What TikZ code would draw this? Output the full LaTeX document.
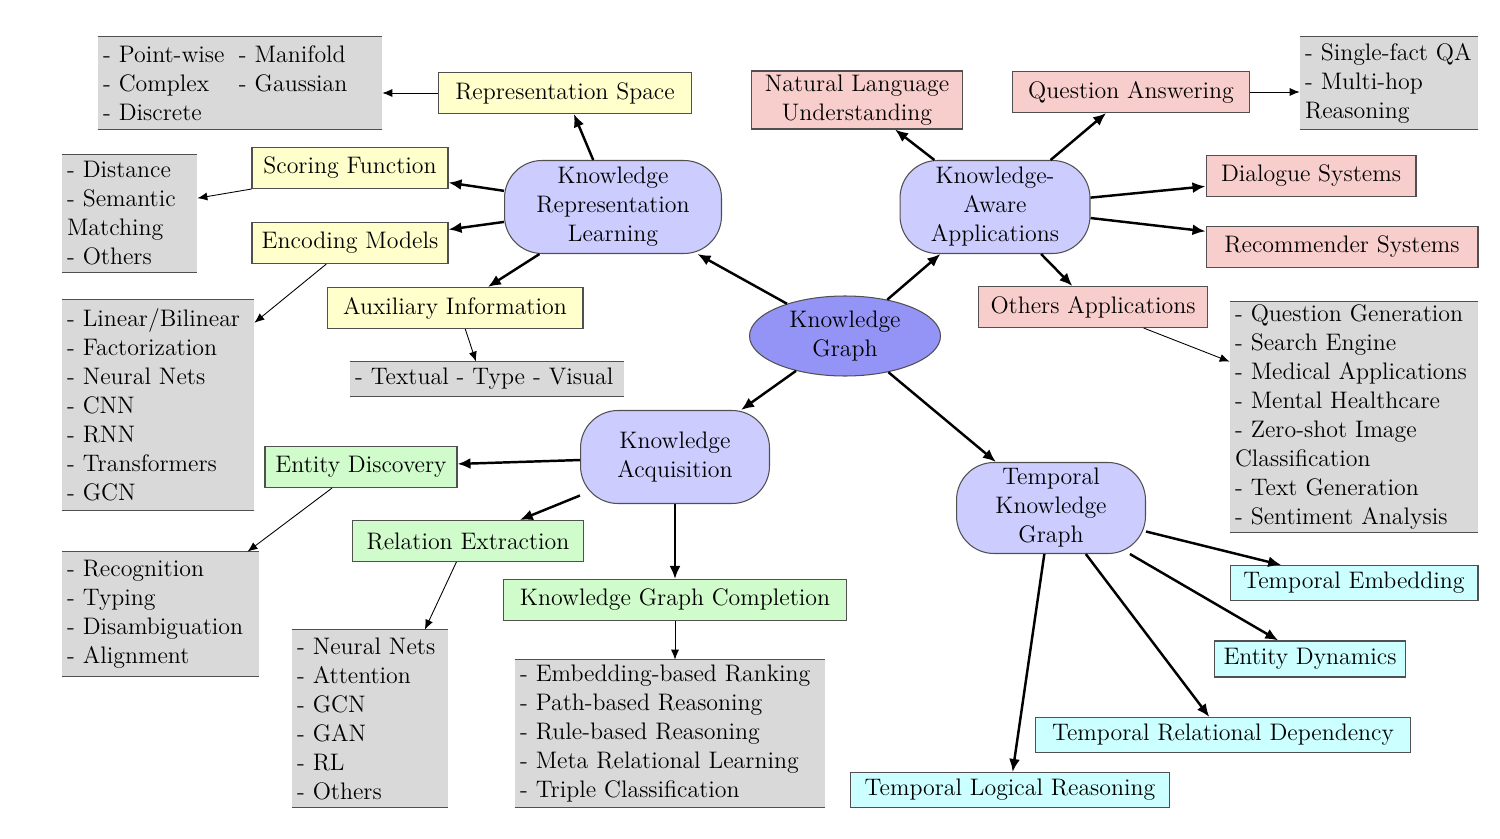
\documentclass[tikz,border=0pt]{standalone}
\usepackage{tikz}
\usetikzlibrary{shapes.geometric, arrows.meta, positioning, calc}
\usepackage{xcolor}
\definecolor{hubfill}{HTML}{CCCCFF}
\definecolor{kgfill}{HTML}{9494F7}
\definecolor{krlfill}{HTML}{FFFFCC}
\definecolor{appfill}{HTML}{F8CECC}
\definecolor{acqfill}{HTML}{D0FCCC}
\definecolor{tkgfill}{HTML}{CCFFFF}
\definecolor{listgrey}{HTML}{D9D9D9}
\definecolor{edge}{HTML}{505050}

\begin{document}
\begin{tikzpicture}[
    x=0.02cm, y=-0.02cm,
    every node/.style={font=\fontsize{13.6}{16.5}\selectfont},
    topic/.style={rectangle, draw=edge, line width=0.6pt, minimum height=0.82cm,
                  inner sep=0pt, align=center},
    hub/.style={rectangle, draw=edge, line width=0.6pt, fill=hubfill,
                rounded corners=0.75cm, minimum width=3.8cm, minimum height=1.86cm,
                inner sep=0pt, align=center},
    listbox/.style={fill=listgrey, align=left, inner xsep=0.1cm, inner ysep=0pt},
    main/.style={-{Latex[length=2.6mm, width=2.2mm]}, line width=1.4pt},
    sub/.style={-{Latex[length=2mm, width=1.6mm]}, line width=0.5pt}
]
    \useasboundingbox (0,0) rectangle (1500,838);

    % centre and hubs
    \node[ellipse, draw=edge, line width=0.6pt, fill=kgfill, minimum width=3.82cm,
          minimum height=1.6cm, inner sep=0pt, align=center] (kg) at (845,336) {Knowledge\\Graph};
    \node[hub, minimum width=4.34cm] (krl) at (613,207) {Knowledge\\Representation\\Learning};
    \node[hub] (kaa) at (995,207) {Knowledge-\\Aware\\Applications};
    \node[hub, minimum width=3.78cm] (ka) at (675,457) {Knowledge\\Acquisition};
    \node[hub, minimum width=3.78cm, minimum height=1.82cm] (tkg) at (1051,508) {Temporal\\Knowledge\\Graph};

    % representation learning
    \node[topic, fill=krlfill, minimum width=5.06cm] (repspace) at (565,93) {Representation Space};
    \node[topic, fill=krlfill, minimum width=3.92cm] (scoring) at (350,168) {Scoring Function};
    \node[topic, fill=krlfill, minimum width=3.92cm] (encoding) at (350,243) {Encoding Models};
    \node[topic, fill=krlfill, minimum width=5.12cm] (auxinfo) at (455,308) {Auxiliary Information};

    % applications
    \node[topic, fill=appfill, minimum width=4.22cm, minimum height=1.16cm] (nlu) at (857,100) {Natural Language\\Understanding};
    \node[topic, fill=appfill, minimum width=4.74cm] (qa) at (1131,92) {Question Answering};
    \node[topic, fill=appfill, minimum width=4.2cm] (dialogue) at (1311,176) {Dialogue Systems};
    \node[topic, fill=appfill, minimum width=5.44cm] (recsys) at (1342,247) {Recommender Systems};
    \node[topic, fill=appfill, minimum width=4.58cm] (otherapps) at (1093,307) {Others Applications};

    % acquisition
    \node[topic, fill=acqfill, minimum width=3.84cm] (entdisc) at (361,467) {Entity Discovery};
    \node[topic, fill=acqfill, minimum width=4.62cm] (relext) at (468,541) {Relation Extraction};
    \node[topic, fill=acqfill, minimum width=6.86cm] (kgc) at (675,600) {Knowledge Graph Completion};

    % temporal
    \node[topic, fill=tkgfill, minimum width=4.96cm, minimum height=0.7cm] (tembed) at (1354,583) {Temporal Embedding};
    \node[topic, fill=tkgfill, minimum width=3.82cm, minimum height=0.72cm] (entdyn) at (1310,659) {Entity Dynamics};
    \node[topic, fill=tkgfill, minimum width=7.5cm, minimum height=0.7cm] (trd) at (1223,735) {Temporal Relational Dependency};
    \node[topic, fill=tkgfill, minimum width=6.38cm, minimum height=0.7cm] (tlr) at (1010,790) {Temporal Logical Reasoning};

    % grey lists
    \node[listbox, text width=5.48cm, minimum height=1.84cm] (spacelist) at (240,83)
        {\makebox[2.72cm][l]{- Point-wise}- Manifold\\\makebox[2.72cm][l]{- Complex}- Gaussian\\- Discrete};
    \node[listbox, text width=2.5cm, minimum height=2.34cm] (scorelist) at (129.5,213.5)
        {- Distance\\- Semantic\\Matching\\- Others};
    \node[listbox, text width=3.64cm, minimum height=4.2cm] (encodelist) at (158,405)
        {- Linear/Bilinear\\- Factorization\\- Neural Nets\\- CNN\\- RNN\\- Transformers\\- GCN};
    \node[listbox, text width=5.28cm, minimum height=0.68cm] (auxlist) at (487,379)
        {- Textual - Type - Visual};
    \node[listbox, text width=3.74cm, minimum height=2.48cm] (entlist) at (160.5,614)
        {- Recognition\\- Typing\\- Disambiguation\\- Alignment};
    \node[listbox, text width=2.92cm, minimum height=3.54cm] (rellist) at (370,718.5)
        {- Neural Nets\\- Attention\\- GCN\\- GAN\\- RL\\- Others};
    \node[listbox, text width=6.0cm, minimum height=2.94cm] (kgclist) at (670,733.5)
        {- Embedding-based Ranking\\- Path-based Reasoning\\- Rule-based Reasoning\\- Meta Relational Learning\\- Triple Classification};
    \node[listbox, text width=3.36cm, minimum height=1.84cm] (qalist) at (1389,83)
        {- Single-fact QA\\- Multi-hop\\Reasoning};
    \node[listbox, text width=4.76cm, minimum height=4.6cm] (applist) at (1354,417)
        {- Question Generation\\- Search Engine\\- Medical Applications\\- Mental Healthcare\\- Zero-shot Image\\Classification\\- Text Generation\\- Sentiment Analysis};

    \foreach \g in {spacelist,scorelist,encodelist,auxlist,entlist,rellist,kgclist,qalist,applist}
        \draw[edge, line width=0.9pt] (\g.north west) -- (\g.north east) (\g.south west) -- (\g.south east);

    % main branches
    \draw[main] (kg) -- (krl);
    \draw[main] (kg) -- (kaa);
    \draw[main] (kg) -- (ka);
    \draw[main] (kg) -- (tkg);

    \draw[main] (krl) -- (repspace);
    \draw[main] (krl) -- (scoring);
    \draw[main] (krl) -- (encoding);
    \draw[main] (krl) -- (auxinfo);

    \draw[main] (kaa) -- (nlu);
    \draw[main] (kaa) -- (qa);
    \draw[main] (kaa) -- (dialogue);
    \draw[main] (kaa) -- (recsys);
    \draw[main] (kaa) -- (otherapps);

    \draw[main] (ka) -- (entdisc);
    \draw[main] (ka) -- (relext);
    \draw[main] (ka) -- (kgc);

    \draw[main] (tkg) -- (tembed);
    \draw[main] (tkg) -- (entdyn);
    \draw[main] (tkg) -- (trd);
    \draw[main] (tkg) -- (tlr);

    % leaves
    \draw[sub] (repspace.west) -- (repspace.west -| spacelist.east);
    \draw[sub] (scoring.south west) -- ($(scorelist.north east)!0.37!(scorelist.south east)$);
    \draw[sub] ($(encoding.south west)!0.38!(encoding.south east)$) -- ($(encodelist.north east)!0.11!(encodelist.south east)$);
    \draw[sub] ($(auxinfo.south west)!0.54!(auxinfo.south east)$) -- ($(auxlist.north west)!0.46!(auxlist.north east)$);
    \draw[sub] (qa.east) -- (qa.east -| qalist.west);
    \draw[sub] ($(otherapps.south west)!0.72!(otherapps.south east)$) -- ($(applist.north west)!0.26!(applist.south west)$);
    \draw[sub] ($(entdisc.south west)!0.35!(entdisc.south east)$) -- ($(entlist.north west)!0.94!(entlist.north east)$);
    \draw[sub] ($(relext.south west)!0.45!(relext.south east)$) -- ($(rellist.north west)!0.85!(rellist.north east)$);
    \draw[sub] (kgc.south) -- (kgc.south |- kgclist.north);
\end{tikzpicture}
\end{document}
